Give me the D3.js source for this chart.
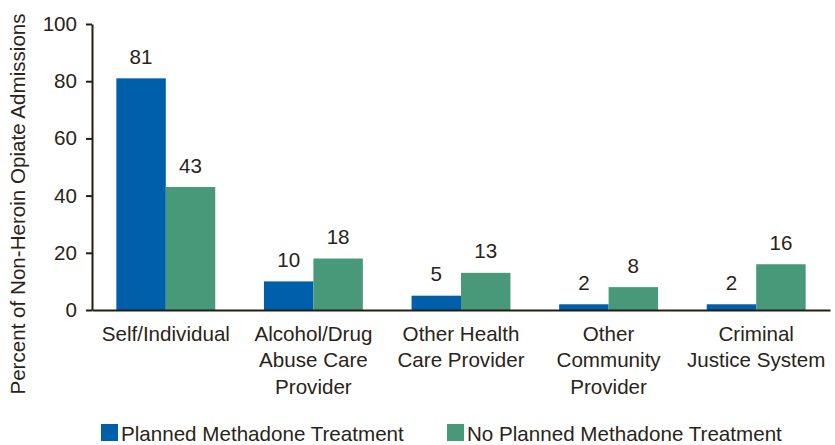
<!DOCTYPE html>
<html><head><meta charset="utf-8">
<script src="https://cdn.jsdelivr.net/npm/d3@7"></script>
<style>
html,body{margin:0;padding:0;background:#fff;}
svg{display:block;font-family:"Liberation Sans",Arial,sans-serif;}
</style></head>
<body>
<svg id="chart" width="835" height="445"></svg>
<script>
const categories = [
  ["Self/Individual"],
  ["Alcohol/Drug","Abuse Care","Provider"],
  ["Other Health","Care Provider"],
  ["Other","Community","Provider"],
  ["Criminal","Justice System"]
];
const seriesNames = ["Planned Methadone Treatment","No Planned Methadone Treatment"];
const planned = [81, 10, 5, 2, 2];
const noPlanned = [43, 18, 13, 8, 16];
const yTicks = [0, 20, 40, 60, 80, 100];
const colors = ["#005FAA", "#48997A"];
const textColor = "#2A2418";
const axisColor = "#231F14";

(function(){
const fs = "20.6px";
const svg = d3.select("#chart");
const mLeft = 92, mRight = 830, mTop = 24, mBottom = 310;
const ids = categories.map((c,i)=>i);

const x0 = d3.scaleBand().domain(ids).range([mLeft, mRight]).paddingInner(0).paddingOuter(0);
const bw = x0.bandwidth();
const groupW = bw * 0.67;
const x1 = d3.scaleBand().domain([0,1]).range([0, groupW]).padding(0);
const y = d3.scaleLinear().domain([0, 100]).range([mBottom, mTop]);

const data = ids.map(i => [planned[i], noPlanned[i]]);

const g = svg.append("g");
const groups = g.selectAll("g.grp").data(data).join("g")
  .attr("transform", (d,i)=>`translate(${x0(i) + (bw - groupW)/2},0)`);

groups.selectAll("rect").data(d=>d.map((v,s)=>({v,s}))).join("rect")
  .attr("x", d=>x1(d.s))
  .attr("width", x1.bandwidth())
  .attr("y", d=>y(d.v))
  .attr("height", d=>y(0)-y(d.v))
  .attr("fill", d=>colors[d.s]);

groups.selectAll("text.val").data(d=>d.map((v,s)=>({v,s}))).join("text")
  .attr("class","val")
  .attr("x", d=>x1(d.s)+x1.bandwidth()/2)
  .attr("y", d=>y(d.v)-14.5)
  .attr("text-anchor","middle")
  .attr("font-size",fs)
  .attr("fill", textColor)
  .text(d=>d.v);

// Y axis
const yAxis = d3.axisLeft(y).tickValues(yTicks).tickSize(6).tickPadding(9).tickSizeOuter(0);
const ya = svg.append("g").attr("transform",`translate(${mLeft},0)`).call(yAxis);
ya.select(".domain").attr("stroke", axisColor).attr("stroke-width", 2);
ya.selectAll(".tick line").attr("stroke", axisColor).attr("stroke-width", 2);
ya.selectAll(".tick text").attr("font-size",fs).attr("fill",textColor)
  .attr("font-family",'"Liberation Sans",Arial,sans-serif');

// X axis
const xAxis = d3.axisBottom(x0).tickSize(0).tickFormat("");
const xa = svg.append("g").attr("transform",`translate(0,${mBottom})`).call(xAxis);
xa.select(".domain").attr("stroke", axisColor).attr("stroke-width", 2.2);

// Category labels
ids.forEach(i=>{
  const t = svg.append("text")
    .attr("text-anchor","middle")
    .attr("font-size",fs)
    .attr("fill",textColor)
    .attr("x", x0(i)+bw/2)
    .attr("y", 340.5);
  categories[i].forEach((line,k)=>{
    t.append("tspan").attr("x", x0(i)+bw/2).attr("dy", k===0?0:26.5).text(line);
  });
});

// Y title
svg.append("text")
  .attr("transform","translate(25,204) rotate(-90)")
  .attr("text-anchor","middle")
  .attr("font-size",fs)
  .attr("fill",textColor)
  .text("Percent of Non-Heroin Opiate Admissions");

// Legend
const legX = [101, 447];
seriesNames.forEach((name,s)=>{
  svg.append("rect").attr("x",legX[s]).attr("y",424).attr("width",17).attr("height",17).attr("fill",colors[s]);
  svg.append("text").attr("x",legX[s]+20).attr("y",441)
    .attr("font-size",fs).attr("fill",textColor).text(name);
});
})();
</script>
</body></html>
